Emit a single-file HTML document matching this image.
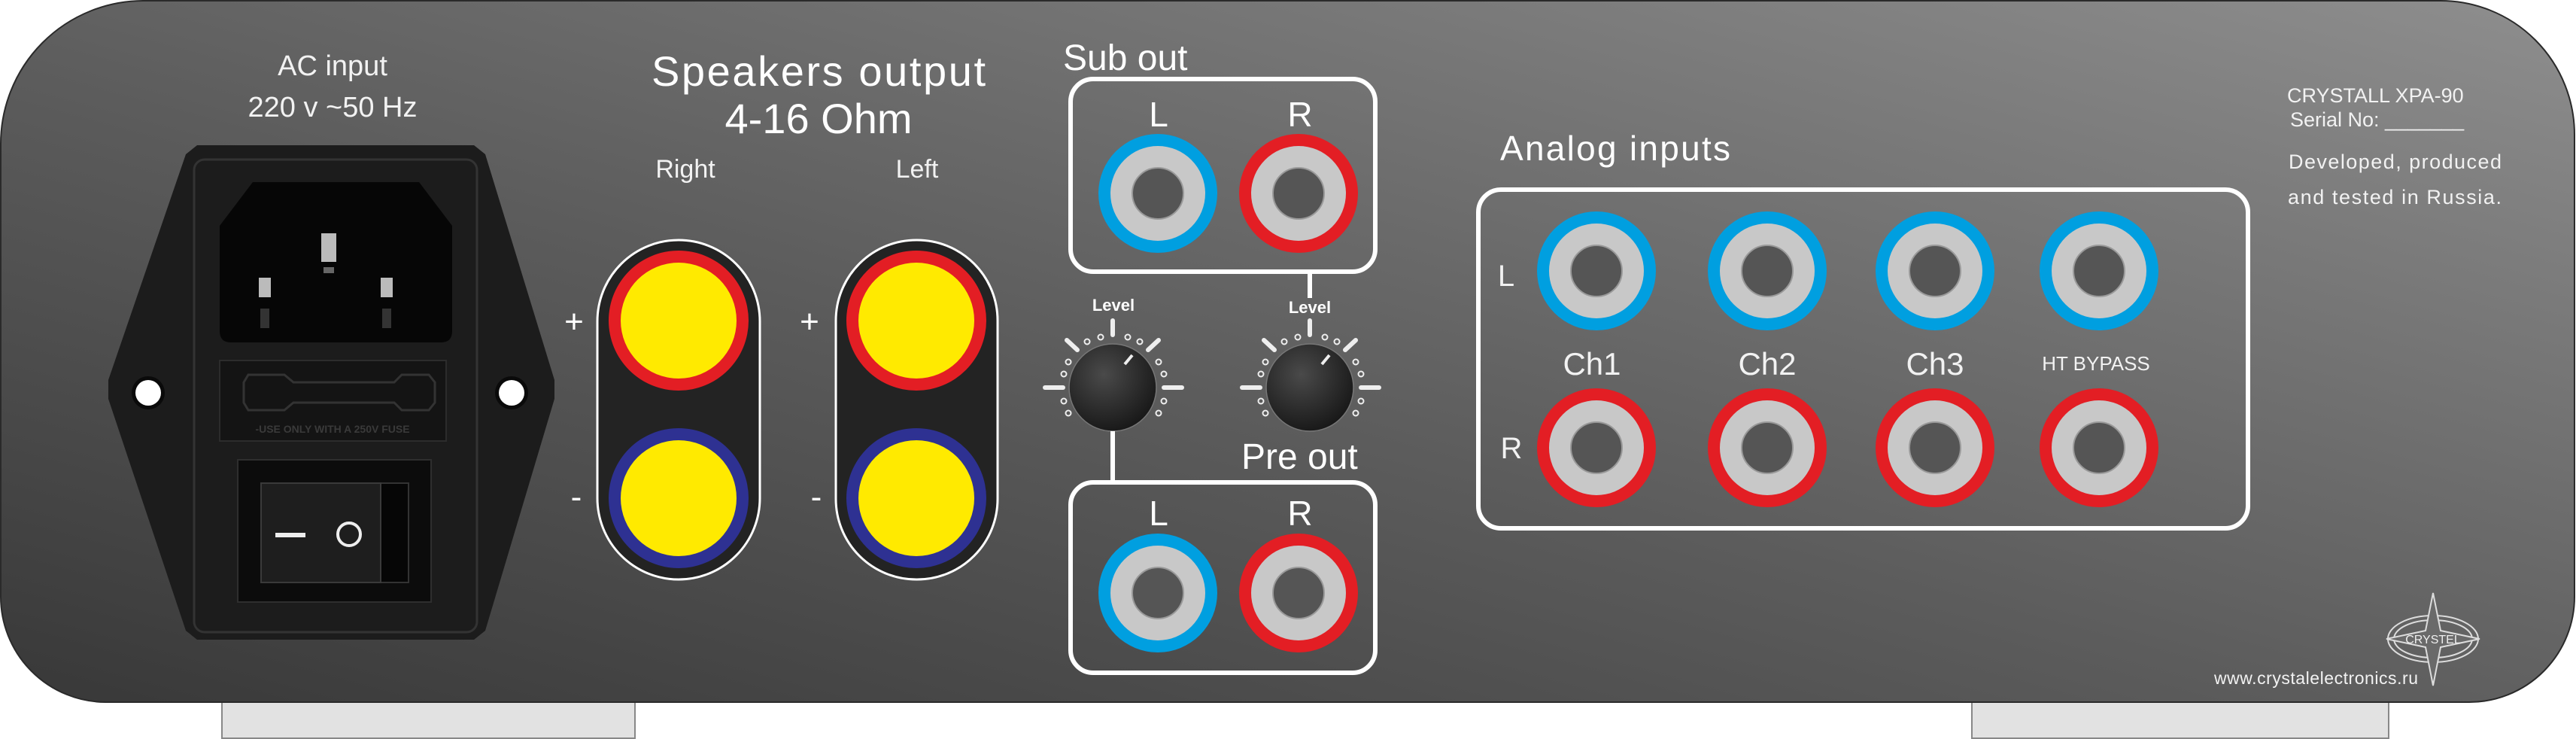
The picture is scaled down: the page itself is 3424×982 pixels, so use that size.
<!DOCTYPE html>
<html><head><meta charset="utf-8"><style>
html,body{margin:0;padding:0;background:#fff;width:3424px;height:982px;overflow:hidden}
svg{display:block}
.t{font-family:"Liberation Sans",sans-serif;fill:#fff}
.n{font-family:"Liberation Sans Narrow","Liberation Sans",sans-serif;fill:#f2f2f2}
</style></head><body>
<svg width="3424" height="982" viewBox="0 0 3424 982" xmlns="http://www.w3.org/2000/svg">
<defs>
<linearGradient id="bg" x1="0" y1="1" x2="1" y2="0" gradientUnits="objectBoundingBox">
<stop offset="0" stop-color="#383838"/><stop offset="0.45" stop-color="#5c5c5c"/><stop offset="1" stop-color="#8e8e8e"/>
</linearGradient>
<radialGradient id="kn" cx="0.4" cy="0.35" r="0.7"><stop offset="0" stop-color="#4a4a4a"/><stop offset="1" stop-color="#161616"/></radialGradient>
<g id="dial">
<circle r="58" fill="url(#kn)" stroke="#777" stroke-width="1.5"/>
<g stroke="#eee" stroke-width="6" stroke-linecap="round">
<line x1="0" y1="-89" x2="0" y2="-70"/><line x1="-61" y1="-63" x2="-47" y2="-50"/><line x1="61" y1="-63" x2="47" y2="-50"/>
<line x1="-90" y1="0" x2="-66" y2="0"/><line x1="68" y1="0" x2="92" y2="0"/>
</g>
<line x1="16" y1="-31" x2="26" y2="-43" stroke="#eee" stroke-width="4"/>
<g fill="none" stroke="#eee" stroke-width="2">
<circle cx="-34" cy="-61" r="3.5"/><circle cx="-16" cy="-67" r="3.5"/><circle cx="20" cy="-67" r="3.5"/><circle cx="36" cy="-61" r="3.5"/>
<circle cx="-59" cy="-34" r="3.5"/><circle cx="-65" cy="-18" r="3.5"/><circle cx="-65" cy="18" r="3.5"/><circle cx="-59" cy="34" r="3.5"/>
<circle cx="61" cy="-34" r="3.5"/><circle cx="68" cy="-18" r="3.5"/><circle cx="68" cy="18" r="3.5"/><circle cx="61" cy="34" r="3.5"/>
</g>
</g>
<g id="jb"><circle r="79" fill="#009fe0"/><circle r="63" fill="#c8c8c8"/><circle r="34" fill="#555" stroke="#999" stroke-width="2"/></g>
<g id="jr"><circle r="79" fill="#e31e24"/><circle r="63" fill="#c8c8c8"/><circle r="34" fill="#555" stroke="#999" stroke-width="2"/></g>
</defs>
<!-- feet -->
<rect x="295" y="925" width="549" height="56" fill="#e2e2e2" stroke="#888" stroke-width="2"/>
<rect x="2621" y="925" width="554" height="56" fill="#e2e2e2" stroke="#888" stroke-width="2"/>
<!-- panel -->
<path d="M190,1 H3244 A178,178 0 0 1 3422,179 V793 A140,140 0 0 1 3282,933 H140 A140,140 0 0 1 1,793 V191 A190,190 0 0 1 190,1 Z" fill="url(#bg)" stroke="#2a2a2a" stroke-width="2"/>

<!-- AC -->
<text class="n" x="442" y="100" font-size="38" text-anchor="middle">AC  input</text>
<text class="n" x="442" y="155" font-size="38" text-anchor="middle">220  v  ~50  Hz</text>
<polygon points="262,193 630,193 645,205 737,505 737,530 645,838 630,850 262,850 247,838 144,530 144,505 247,205" fill="#1c1c1c"/>
<rect x="258" y="212" width="376" height="628" rx="14" fill="none" stroke="#333" stroke-width="3"/>
<path d="M336,242 H557 L601,300 V440 Q601,455 586,455 H307 Q292,455 292,440 V300 Z" fill="#060606"/>
<rect x="427" y="310" width="20" height="38" fill="#bbb"/><rect x="430" y="355" width="14" height="8" fill="#666"/>
<rect x="344" y="369" width="16" height="26" fill="#bbb"/><rect x="346" y="410" width="12" height="26" fill="#333"/>
<rect x="506" y="369" width="16" height="26" fill="#bbb"/><rect x="508" y="410" width="12" height="26" fill="#333"/>
<rect x="292" y="479" width="301" height="107" fill="#141414" stroke="#2c2c2c" stroke-width="2"/>
<path d="M330,498 H378 L390,508 H524 L534,498 H570 L578,508 V535 L570,545 H534 L524,535 H390 L378,545 H330 L324,535 V508 Z" fill="none" stroke="#333" stroke-width="3"/>
<text x="442" y="575" font-family="Liberation Sans Narrow,Liberation Sans,sans-serif" font-size="14" fill="#3a3a3a" text-anchor="middle" font-weight="bold">-USE ONLY WITH A 250V FUSE</text>
<rect x="316" y="611" width="257" height="189" fill="#0c0c0c" stroke="#2e2e2e" stroke-width="2"/>
<rect x="347" y="642" width="196" height="132" fill="#060606" stroke="#333" stroke-width="2"/>
<rect x="347" y="642" width="159" height="132" fill="#1e1e1e" stroke="#3a3a3a" stroke-width="2"/>
<line x1="366" y1="711" x2="406" y2="711" stroke="#eee" stroke-width="6"/>
<circle cx="464" cy="710" r="15" fill="none" stroke="#eee" stroke-width="4"/>
<circle cx="197" cy="522" r="22" fill="#0a0a0a"/><circle cx="197" cy="522" r="17" fill="#fff"/>
<circle cx="680" cy="522" r="22" fill="#0a0a0a"/><circle cx="680" cy="522" r="17" fill="#fff"/>

<!-- speakers -->
<text class="t" x="1088" y="114" font-size="56" text-anchor="middle" textLength="444">Speakers output</text>
<text class="t" x="1088" y="177" font-size="56" text-anchor="middle">4-16 Ohm</text>
<text class="n" x="911" y="236" font-size="34" text-anchor="middle">Right</text>
<text class="n" x="1219" y="236" font-size="34" text-anchor="middle">Left</text>
<rect x="794" y="319" width="216" height="451" rx="108" fill="#232323" stroke="#fff" stroke-width="3"/>
<rect x="1111" y="319" width="215" height="451" rx="107" fill="#232323" stroke="#fff" stroke-width="3"/>
<circle cx="902" cy="426" r="93" fill="#e31e24"/><circle cx="902" cy="426" r="77" fill="#ffea00"/>
<circle cx="902" cy="662" r="93" fill="#2e3192"/><circle cx="902" cy="662" r="77" fill="#ffea00"/>
<circle cx="1218" cy="426" r="93" fill="#e31e24"/><circle cx="1218" cy="426" r="77" fill="#ffea00"/>
<circle cx="1218" cy="662" r="93" fill="#2e3192"/><circle cx="1218" cy="662" r="77" fill="#ffea00"/>
<text class="t" x="763" y="442" font-size="44" text-anchor="middle">+</text>
<text class="t" x="766" y="675" font-size="44" text-anchor="middle">-</text>
<text class="t" x="1076" y="442" font-size="44" text-anchor="middle">+</text>
<text class="t" x="1085" y="675" font-size="44" text-anchor="middle">-</text>

<!-- sub/pre -->
<text class="t" x="1413" y="93" font-size="48">Sub out</text>
<rect x="1423" y="105" width="405" height="256" rx="30" fill="none" stroke="#fff" stroke-width="6"/>
<text class="t" x="1540" y="168" font-size="46" text-anchor="middle">L</text>
<text class="t" x="1728" y="168" font-size="46" text-anchor="middle">R</text>
<use href="#jb" x="1539" y="257"/><use href="#jr" x="1726" y="257"/>
<line x1="1741" y1="361" x2="1741" y2="396" stroke="#fff" stroke-width="6"/>
<text class="t" x="1480" y="413" font-size="22" font-weight="bold" text-anchor="middle">Level</text>
<text class="t" x="1741" y="416" font-size="22" font-weight="bold" text-anchor="middle">Level</text>
<use href="#dial" x="1479" y="515"/><use href="#dial" x="1741" y="515"/>
<line x1="1479" y1="573" x2="1479" y2="640" stroke="#fff" stroke-width="6"/>
<text class="t" x="1650" y="623" font-size="48">Pre out</text>
<rect x="1423" y="641" width="405" height="253" rx="30" fill="none" stroke="#fff" stroke-width="6"/>
<text class="t" x="1540" y="698" font-size="46" text-anchor="middle">L</text>
<text class="t" x="1728" y="698" font-size="46" text-anchor="middle">R</text>
<use href="#jb" x="1539" y="788"/><use href="#jr" x="1726" y="788"/>

<!-- analog -->
<text class="t" x="1994" y="213" font-size="46" textLength="306">Analog inputs</text>
<rect x="1965" y="252" width="1023" height="450" rx="30" fill="none" stroke="#fff" stroke-width="6"/>
<text class="n" x="2002" y="380" font-size="40" text-anchor="middle">L</text>
<text class="n" x="2009" y="609" font-size="40" text-anchor="middle">R</text>
<use href="#jb" x="2122" y="360"/><use href="#jb" x="2349" y="360"/><use href="#jb" x="2572" y="360"/><use href="#jb" x="2790" y="360"/>
<use href="#jr" x="2122" y="595"/><use href="#jr" x="2349" y="595"/><use href="#jr" x="2572" y="595"/><use href="#jr" x="2790" y="595"/>
<text class="n" x="2116" y="498" font-size="42" text-anchor="middle">Ch1</text>
<text class="n" x="2349" y="498" font-size="42" text-anchor="middle">Ch2</text>
<text class="n" x="2572" y="498" font-size="42" text-anchor="middle">Ch3</text>
<text class="n" x="2786" y="492" font-size="26" text-anchor="middle">HT BYPASS</text>

<!-- right text -->
<text class="n" x="3040" y="136" font-size="27">CRYSTALL XPA-90</text>
<text class="n" x="3044" y="168" font-size="27">Serial No: _______</text>
<text class="n" x="3042" y="224" font-size="27" textLength="283">Developed, produced</text>
<text class="n" x="3041" y="271" font-size="27" textLength="284">and tested in Russia.</text>
<g fill="none" stroke="#ddd" stroke-width="2">
<ellipse cx="3234" cy="849" rx="60" ry="31"/><ellipse cx="3234" cy="849" rx="52" ry="25"/>
<polygon points="3234,788 3244,838 3296,849 3244,860 3234,911 3224,860 3172,849 3224,838" fill="#6a6a6a"/>
</g>
<text x="3234" y="855" font-family="Liberation Sans Narrow,Liberation Sans,sans-serif" font-size="16" fill="#eee" text-anchor="middle">CRYSTEL</text>
<text class="n" x="2943" y="909" font-size="23" textLength="271">www.crystalelectronics.ru</text>
</svg>
</body></html>
